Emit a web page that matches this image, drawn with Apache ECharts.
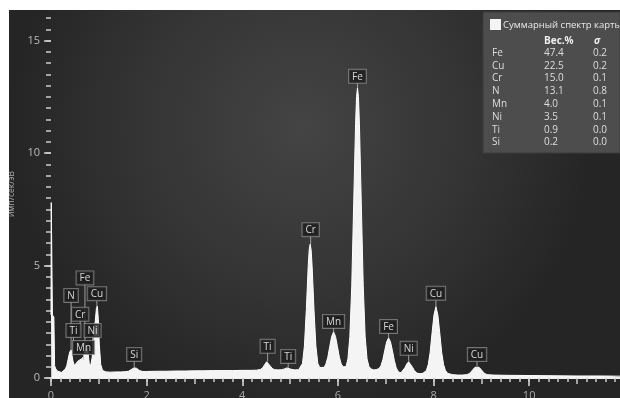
<!DOCTYPE html>
<html><head><meta charset="utf-8">
<script src="https://cdn.jsdelivr.net/npm/echarts@6/dist/echarts.min.js"></script>
<style>html,body{margin:0;padding:0;background:#fff;width:620px;height:398px;overflow:hidden}#c{position:absolute;left:9px;top:10px;width:611px;height:388px}</style>
</head><body><div id="c"></div>
<script>
// ---- spectrum (energy keV, counts per eV) ----
const energyKeV = [0.00,0.005,0.025,0.03,0.06,0.075,0.10,0.14,0.18,0.22,0.26,0.30,0.33,0.36,0.39,0.42,0.44,0.46,0.49,0.52,0.56,0.60,0.64,0.68,0.71,0.74,0.77,0.80,0.83,0.86,0.89,0.92,0.95,0.97,0.99,1.01,1.04,1.08,1.15,1.25,1.35,1.45,1.55,1.62,1.68,1.74,1.79,1.85,1.92,2.0,2.2,2.4,2.6,2.8,3.0,3.2,3.4,3.6,3.8,4.0,4.2,4.3,4.38,4.43,4.47,4.51,4.55,4.59,4.63,4.68,4.75,4.82,4.88,4.93,4.97,5.02,5.10,5.18,5.22,5.26,5.30,5.34,5.38,5.40,5.42,5.44,5.46,5.50,5.54,5.58,5.62,5.66,5.71,5.75,5.79,5.83,5.87,5.91,5.95,5.99,6.03,6.07,6.11,6.14,6.17,6.21,6.25,6.29,6.33,6.37,6.39,6.41,6.43,6.45,6.49,6.53,6.57,6.61,6.65,6.70,6.75,6.80,6.86,6.90,6.94,6.98,7.02,7.06,7.10,7.14,7.18,7.22,7.27,7.32,7.36,7.40,7.44,7.48,7.52,7.56,7.60,7.65,7.72,7.78,7.81,7.85,7.89,7.93,7.97,8.01,8.05,8.09,8.13,8.17,8.21,8.25,8.30,8.40,8.50,8.60,8.70,8.75,8.79,8.83,8.87,8.91,8.95,8.99,9.03,9.07,9.12,9.25,9.5,10.0,10.5,11.0,11.5,11.9];
const countsPerEv = [2.8,7.8,7.8,2.8,2.7,0.55,0.4,0.3,0.25,0.25,0.3,0.4,0.55,0.85,1.15,1.25,1.2,0.75,0.55,0.6,0.75,0.8,0.85,0.95,1.2,1.45,1.2,0.65,0.55,0.9,1.5,2.4,3.1,3.2,2.6,1.5,0.6,0.33,0.27,0.26,0.27,0.27,0.28,0.3,0.38,0.45,0.43,0.33,0.29,0.29,0.3,0.3,0.31,0.31,0.32,0.32,0.33,0.33,0.33,0.34,0.34,0.35,0.38,0.46,0.6,0.72,0.66,0.52,0.42,0.37,0.36,0.37,0.4,0.45,0.44,0.39,0.36,0.37,0.42,0.65,1.42,3.04,5.0,5.7,5.95,5.7,5.0,3.04,1.42,0.65,0.47,0.45,0.47,0.62,0.93,1.4,1.85,2.05,1.85,1.4,0.93,0.62,0.5,0.47,0.5,0.85,1.85,4.1,7.7,11.3,12.5,12.9,12.5,11.3,7.7,4.1,1.85,0.85,0.5,0.4,0.36,0.37,0.42,0.54,0.81,1.22,1.61,1.78,1.61,1.22,0.78,0.45,0.26,0.24,0.3,0.45,0.62,0.72,0.64,0.48,0.33,0.22,0.19,0.21,0.23,0.33,0.6,1.15,2.01,2.81,3.17,2.81,2.01,1.15,0.6,0.33,0.2,0.15,0.13,0.13,0.15,0.2,0.29,0.39,0.48,0.53,0.48,0.39,0.29,0.2,0.15,0.13,0.12,0.11,0.1,0.09,0.09,0.08];

// ---- peak labels ----
const peakNames  = ['N','Fe','Cu','Cr','Ti','Ni','Mn','Si','Ti','Ti','Cr','Mn','Fe','Fe','Ni','Cu','Cu'];
const peakKeV    = [0.42,0.71,0.96,0.61,0.47,0.87,0.68,1.74,4.53,4.96,5.43,5.91,6.41,7.06,7.48,8.05,8.91];
const peakAt     = [1.25,1.45,3.15,2.1,1.38,1.38,0.8,0.45,0.72,0.45,5.95,2.05,12.9,1.78,0.72,3.17,0.53];
const stemLength = [48,61,7,10,10,10,6,7,9,5,8,4,5,5,7,7,5];

// ---- axes ticks ----
const xTickValues = [0,2,4,6,8,10];
const xOddTicks = [1,3,5,7,9,11];
const yTickValues = [0,5,10,15];
const xMinorTicks = []; for (let i = 0; i <= 59; i++) xMinorTicks.push(+(i*0.2).toFixed(1));
const yMinorTicks = []; for (let i = 0; i <= 32; i++) yMinorTicks.push(i*0.5);

// ---- summary table ----
const tableTitle = 'Суммарный спектр карты';
const tableHeader = ['Вес.%', 'σ'];
const tableElements = ['Fe','Cu','Cr','N','Mn','Ni','Ti','Si'];
const tableWeight = ['47.4','22.5','15.0','13.1','4.0','3.5','0.9','0.2'];
const tableSigma = ['0.2','0.2','0.1','0.8','0.1','0.1','0.0','0.0'];

const FONT = '"Open Sans", "Noto Sans", sans-serif';
const XMAX = 11.9, YMAX = 16.36;

const chart = echarts.init(document.getElementById('c'), null, {renderer:'canvas'});

const spectrum = energyKeV.map((e,i)=>[e, countsPerEv[i]]);
const labelData = peakNames.map((n,i)=>({
  name: n, value: [peakKeV[i], peakAt[i]],
  symbolSize: [1, stemLength[i]], symbolOffset: [0, -stemLength[i]/2]
}));

const g = [];
g.push({type:'rect', shape:{x:474,y:2,width:137,height:141}, style:{fill:'#4d4d4d', stroke:'#3c3c3c', lineWidth:1}, z:100});
g.push({type:'rect', shape:{x:481,y:9,width:11,height:11}, style:{fill:'#f4f4f4'}, z:101});
g.push({type:'text', x:494, y:15, style:{text:tableTitle, fill:'#e8e8e8', font:'9.5px '+FONT, verticalAlign:'middle'}, z:101});
g.push({type:'text', x:535, y:31, style:{text:tableHeader[0], fill:'#eeeeee', font:'bold 10px '+FONT, verticalAlign:'middle'}, z:101});
g.push({type:'text', x:585, y:31, style:{text:tableHeader[1], fill:'#eeeeee', font:'italic bold 10px '+FONT, verticalAlign:'middle'}, z:101});
tableElements.forEach((el,i)=>{
  const y = 43 + i*12.8;
  g.push({type:'text', x:483, y:y, style:{text:el, fill:'#dddddd', font:'10px '+FONT, verticalAlign:'middle'}, z:101});
  g.push({type:'text', x:535, y:y, style:{text:tableWeight[i], fill:'#dddddd', font:'10px '+FONT, verticalAlign:'middle'}, z:101});
  g.push({type:'text', x:584, y:y, style:{text:tableSigma[i], fill:'#dddddd', font:'10px '+FONT, verticalAlign:'middle'}, z:101});
});

const xCommon = {type:'value', min:0, max:XMAX, position:'bottom', splitLine:{show:false}};
const yCommon = {type:'value', min:0, max:YMAX, position:'left', splitLine:{show:false}, axisLine:{show:false}};

chart.setOption({
  animation:false,
  backgroundColor: new echarts.graphic.RadialGradient(0.48, 0.3, 0.75, [
    {offset:0, color:'#444444'}, {offset:0.6, color:'#333333'}, {offset:1, color:'#252525'}]),
  grid:{left:42, right:0, top:0, bottom:20, outerBoundsMode:'none', containLabel:false},
  xAxis:[
    Object.assign({}, xCommon, {
      axisLine:{show:true, lineStyle:{color:'#f0f0f0', width:2}},
      axisTick:{show:true, customValues:xTickValues, length:8, lineStyle:{color:'#dddddd', width:1.5}},
      axisLabel:{customValues:xTickValues, color:'#aaaaaa', fontSize:11, fontFamily:FONT, margin:12}
    }),
    Object.assign({}, xCommon, {
      axisLine:{show:false}, axisLabel:{show:false},
      axisTick:{show:true, customValues:xOddTicks, length:6, lineStyle:{color:'#cccccc', width:1.5}}
    }),
    Object.assign({}, xCommon, {
      axisLine:{show:false}, axisLabel:{show:false},
      axisTick:{show:true, customValues:xMinorTicks, length:4, lineStyle:{color:'#cccccc', width:1.5}}
    })
  ],
  yAxis:[
    Object.assign({}, yCommon, {
      name:'имп/сек/эВ', nameLocation:'middle', nameGap:34, nameRotate:90,
      nameTextStyle:{color:'#aaaaaa', fontSize:8.5, fontFamily:FONT},
      axisTick:{show:true, customValues:yTickValues, length:7, lineStyle:{color:'#d5d5d5', width:1.5}},
      axisLabel:{customValues:yTickValues, color:'#bbbbbb', fontSize:11, fontFamily:FONT, margin:11}
    }),
    Object.assign({}, yCommon, {
      axisLabel:{show:false},
      axisTick:{show:true, customValues:yMinorTicks, length:5, lineStyle:{color:'#cccccc', width:1.5}}
    })
  ],
  series:[
    {type:'line', xAxisIndex:0, yAxisIndex:0, data:spectrum, showSymbol:false, symbol:'none',
     lineStyle:{color:'#ffffff', width:1}, areaStyle:{color:'#f4f4f4', opacity:1}, z:3},
    {type:'scatter', xAxisIndex:0, yAxisIndex:0, data:labelData, symbol:'rect',
     itemStyle:{color:'#bbbbbb'}, z:5,
     label:{show:true, position:'top', distance:0, formatter:'{b}', color:'#ffffff', fontSize:10,
       fontFamily:FONT, backgroundColor:'#1d1d1d', borderColor:'#8a8a8a', borderWidth:1, padding:[2,3,1,3]}}
  ],
  graphic:{elements:g}
});
</script></body></html>
